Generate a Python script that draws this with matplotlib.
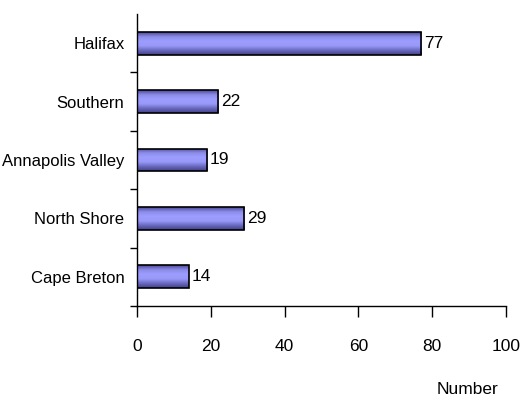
import numpy as np
import matplotlib.pyplot as plt
from matplotlib.colors import LinearSegmentedColormap

regions = ['Cape Breton', 'North Shore', 'Annapolis Valley', 'Southern', 'Halifax']
counts = [14, 29, 19, 22, 77]
xticks = [0, 20, 40, 60, 80, 100]

plt.rcParams['font.family'] = ['Liberation Sans', 'DejaVu Sans']

fig = plt.figure(figsize=(5.24, 4.0), dpi=100)
ax = fig.add_axes([137 / 524, 1 - 306 / 400, (506 - 137) / 524, (306 - 14) / 400])

bars = ax.barh(regions, counts, height=0.39, color='none', edgecolor='black', linewidth=1.2, zorder=3)

# shaded bar fill: darker at top and bottom edge, light in the middle
cmap = LinearSegmentedColormap.from_list('bar', ['#4a4a9a', '#8c8ce8', '#9d9dff', '#9999fa', '#6a6ac0', '#404088'])
grad = np.linspace(0, 1, 64).reshape(-1, 1)
for b in bars:
    x0, y0 = b.get_x(), b.get_y()
    im = ax.imshow(grad, cmap=cmap, aspect='auto', extent=[x0, x0 + b.get_width(), y0, y0 + b.get_height()],
                   origin='upper', zorder=2, interpolation='bilinear')
    im.set_clip_path(b)
    ax.text(x0 + b.get_width() + 0.8, y0 + b.get_height() / 2, str(int(b.get_width())),
            va='center', ha='left', fontsize=12.5)

ax.set_xlim(0, 100)
ax.set_ylim(-0.5, len(regions) - 0.5)
ax.set_xticks(xticks)
ax.set_xticklabels([str(t) for t in xticks], fontsize=12.5)
ax.set_yticks(range(len(regions)))
ax.set_yticklabels(regions, fontsize=12)
ax.set_yticks(np.arange(-0.5, len(regions) - 0.5, 1), minor=True)
ax.tick_params(axis='y', which='major', length=0, pad=9)
ax.tick_params(axis='y', which='minor', length=5, width=1)
ax.tick_params(axis='x', length=8, width=1, pad=16)
for s in ['top', 'right']:
    ax.spines[s].set_visible(False)
for s in ['left', 'bottom']:
    ax.spines[s].set_linewidth(1)

fig.text(467 / 524, 1 - 390 / 400, 'Number', ha='center', va='center', fontsize=12.5)

fig.savefig('out.png', dpi=100)
